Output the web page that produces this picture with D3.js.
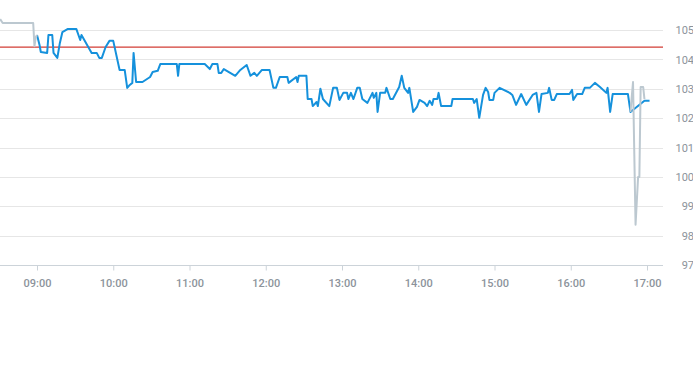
<!DOCTYPE html>
<html>
<head>
<meta charset="utf-8">
<script src="https://d3js.org/d3.v7.min.js"></script>
<style>
  body { margin: 0; overflow: hidden; background: #fff; }
  text { font-family: Roboto, "Liberation Sans", sans-serif; }
</style>
</head>
<body>
<svg id="chart" width="693" height="365"></svg>
<script>
// intraday prices (blue), extended session (grey), reference level (red)
var times = ["09:00","09:02","09:03","09:08","09:09","09:12","09:13","09:16","09:18","09:20","09:24","09:31","09:34","09:35","09:43","09:47","09:49","09:51","09:54","09:57",
  "10:00","10:05","10:09","10:11","10:13","10:15","10:16","10:18","10:23","10:29","10:31","10:35","10:37","10:50","10:51","10:52",
  "11:12","11:16","11:18","11:22","11:23","11:25","11:27","11:32","11:36","11:40","11:45","11:48","11:51","11:53","11:57",
  "12:03","12:06","12:08","12:11","12:17","12:18","12:24","12:25","12:26","12:32","12:33","12:36","12:37","12:40","12:41","12:43","12:45","12:50","12:53","12:56","12:58",
  "13:01","13:04","13:05","13:07","13:09","13:12","13:14","13:16","13:20","13:24","13:25","13:27","13:28","13:30","13:34","13:35","13:38","13:40","13:45","13:47","13:49","13:52","13:53","13:56","13:59",
  "14:01","14:05","14:07","14:09","14:11","14:12","14:15","14:16","14:18","14:26","14:27","14:43","14:44","14:46","14:48","14:51","14:53","14:55","14:56","14:59",
  "15:00","15:04","15:12","15:14","15:17","15:21","15:25","15:30","15:33","15:35","15:37","15:42","15:43","15:45","15:47","15:49","15:59",
  "16:01","16:02","16:05","16:09","16:11","16:15","16:19","16:23","16:28","16:29","16:31","16:33","16:45","16:47","16:58","17:02"];
var prices = [104.83,104.49,104.25,104.22,104.83,104.83,104.22,104.05,104.56,104.93,105.03,105.03,104.66,104.83,104.22,104.22,104.05,104.05,104.42,104.63,
  104.63,103.64,103.64,103.03,103.13,103.20,104.22,103.23,103.23,103.40,103.57,103.61,103.84,103.84,103.44,103.84,
  103.84,103.67,103.84,103.84,103.54,103.54,103.67,103.54,103.44,103.64,103.81,103.44,103.54,103.44,103.64,
  103.64,103.03,103.03,103.40,103.40,103.20,103.40,103.23,103.44,103.44,102.65,102.65,102.41,102.55,102.41,103.00,102.65,102.41,103.03,103.03,102.62,
  102.86,102.86,102.65,102.86,102.65,103.03,103.03,102.65,102.52,102.86,102.69,102.86,102.21,102.86,102.86,103.03,102.65,102.65,103.06,103.44,103.03,102.86,103.03,102.21,102.38,
  102.62,102.52,102.41,102.59,102.45,102.65,102.65,102.86,102.41,102.41,102.65,102.65,102.52,102.65,102.01,102.79,103.03,102.89,102.62,102.62,
  102.86,103.03,102.86,102.79,102.45,102.82,102.45,102.79,102.86,102.21,102.82,102.86,103.03,102.62,102.62,102.82,102.82,
  102.96,102.62,102.82,102.82,103.03,103.03,103.20,103.06,102.86,103.03,102.21,102.82,102.82,102.21,102.59,102.59];

var preTimes = ["08:31","08:33","08:57","08:58","08:59","09:00"];
var prePrices = [105.37,105.24,105.24,104.45,104.75,104.83];
var postTimes = ["16:47","16:49","16:51","16:53","16:54","16:55","16:57","16:58"];
var postPrices = [102.21,103.23,98.37,100.00,100.00,103.06,103.06,102.65];

var refLevel = 104.42;
var yTicks = [97, 98, 99, 100, 101, 102, 103, 104, 105];
var xTicks = ["09:00","10:00","11:00","12:00","13:00","14:00","15:00","16:00","17:00"];

var parse = d3.timeParse("%H:%M");
var svg = d3.select("#chart");
var plotRight = 663;

var x = d3.scaleTime().domain([parse("09:00"), parse("17:00")]).range([37, 647]);
var y = d3.scaleLinear().domain([97, 105]).range([265, 30]);

// grid
svg.append("g").selectAll("line")
  .data(yTicks.filter(function(d) { return d > 97; }))
  .enter().append("line")
  .attr("x1", 0).attr("x2", plotRight)
  .attr("y1", function(d) { return Math.round(y(d)) + 0.5; })
  .attr("y2", function(d) { return Math.round(y(d)) + 0.5; })
  .attr("stroke", "#e6e6e6");

// y labels on the right
svg.append("g").selectAll("text")
  .data(yTicks)
  .enter().append("text")
  .attr("x", 694)
  .attr("y", function(d) { return y(d); })
  .attr("dy", "0.38em")
  .attr("text-anchor", "end")
  .attr("font-size", 11)
  .attr("fill", "#8c939b")
  .text(function(d) { return d; });

// x axis
var xAxis = d3.axisBottom(x)
  .tickValues(xTicks.map(parse))
  .tickFormat(d3.timeFormat("%H:%M"))
  .tickSize(5)
  .tickSizeOuter(0);
var gx = svg.append("g").attr("transform", "translate(0," + (y(97) + 0.5) + ")").call(xAxis);
gx.select(".domain").remove();
gx.append("line").attr("x1", 0).attr("x2", plotRight).attr("stroke", "#ccd3d9");
gx.selectAll(".tick line").attr("stroke", "#ccd3d9");
gx.selectAll(".tick text")
  .attr("font-family", "Roboto, 'Liberation Sans', sans-serif")
  .attr("font-size", 11)
  .attr("font-weight", 500)
  .attr("fill", "#8c939b")
  .attr("dy", "1.2em");

// reference line
svg.append("line")
  .attr("x1", 0).attr("x2", plotRight)
  .attr("y1", y(refLevel)).attr("y2", y(refLevel))
  .attr("stroke", "#d23c34").attr("stroke-width", 1.2);

svg.append("clipPath").attr("id", "clip")
  .append("rect").attr("x", 0).attr("y", 0).attr("width", plotRight).attr("height", 265);

var line = d3.line()
  .x(function(d) { return x(d[0]); })
  .y(function(d) { return y(d[1]); });

function pairs(ts, ps) {
  return ts.map(function(t, i) { return [parse(t), ps[i]]; });
}

var plot = svg.append("g").attr("clip-path", "url(#clip)");

plot.append("path")
  .datum(pairs(times, prices))
  .attr("d", line)
  .attr("fill", "none")
  .attr("stroke", "#1591dc")
  .attr("stroke-width", 2)
  .attr("stroke-linejoin", "round");

plot.selectAll(".ext")
  .data([pairs(preTimes, prePrices), pairs(postTimes, postPrices)])
  .enter().append("path")
  .attr("class", "ext")
  .attr("d", line)
  .attr("fill", "none")
  .attr("stroke", "#bcc8d0")
  .attr("stroke-width", 2)
  .attr("stroke-linejoin", "round");
</script>
</body>
</html>
